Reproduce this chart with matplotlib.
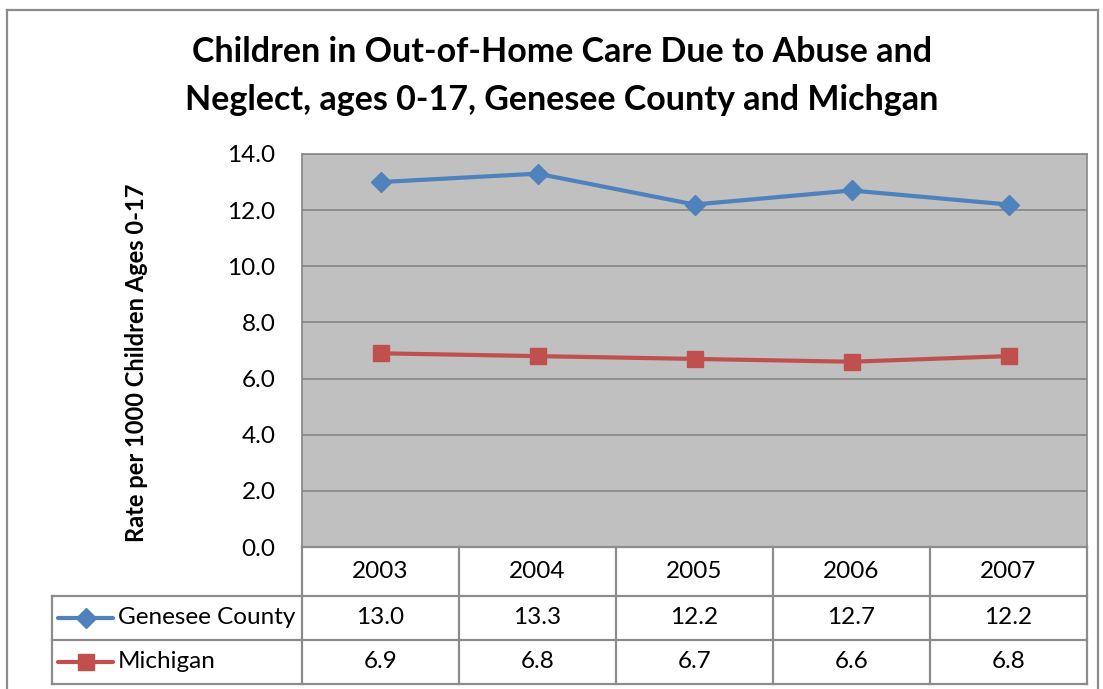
import matplotlib.pyplot as plt
from matplotlib.lines import Line2D

years = ["2003", "2004", "2005", "2006", "2007"]
genesee = [13.0, 13.3, 12.2, 12.7, 12.2]
michigan = [6.9, 6.8, 6.7, 6.6, 6.8]
series_names = ["Genesee County", "Michigan"]
title_lines = ["Children in Out-of-Home Care Due to Abuse and",
               "Neglect, ages 0-17, Genesee County and Michgan"]

W, H = 1103, 689
BLUE = "#4F81BD"
RED = "#C0504D"
GRID = "#868686"
FS = 17.5

plt.rcParams["font.family"] = ["Lato", "DejaVu Sans"]


def fx(px):
    return px / W


def fy(py):
    return 1 - py / H


fig = plt.figure(figsize=(W / 100, H / 100), dpi=100)
fig.patch.set_facecolor("white")

# outer chart border (bottom is cut off in the original)
for xs, ys in [([7, 7], [10, 700]), ([7, 1098], [10, 10]), ([1098, 1098], [10, 700])]:
    fig.add_artist(Line2D([fx(x) for x in xs], [fy(y) for y in ys], color="#8C8C8C", lw=1.6))

# plot area
left, right, top, bottom = 302, 1087, 154, 547
ax = fig.add_axes([fx(left), fy(bottom), fx(right - left), (bottom - top) / H])
ax.set_facecolor("#C0C0C0")
x = list(range(len(years)))
ax.plot(x, genesee, color=BLUE, lw=3, marker="D", ms=10.5, zorder=3)
ax.plot(x, michigan, color=RED, lw=3, marker="s", ms=11.5, zorder=3)
ax.set_xlim(-0.5, len(years) - 0.5)
ax.set_ylim(0, 14)
ax.set_yticks([0, 2, 4, 6, 8, 10, 12, 14])
ax.set_yticklabels([f"{v:.1f}" for v in ax.get_yticks()], fontsize=FS)
ax.tick_params(axis="y", length=0, pad=19)
ax.set_xticks([])
ax.grid(axis="y", color=GRID, lw=1.2)
ax.set_axisbelow(True)
for s in ax.spines.values():
    s.set_color(GRID)
    s.set_linewidth(1.2)

ax.set_ylabel("Rate per 1000 Children Ages 0-17", fontsize=17, fontweight="bold")
ax.yaxis.set_label_coords(-(302 - 148) / 785, 1 - (363 - 154) / 393)

for ty, line in zip([52, 100], title_lines):
    fig.text(fx(562), fy(ty), line, ha="center", va="center", fontsize=24.5, fontweight="bold")

# data table
col_w = (right - left) / len(years)
row_y = [547, 596, 640, 684]
tbl_left = 52
line_kw = dict(color="#8C8C8C", lw=1.6)
fig.add_artist(Line2D([fx(left), fx(right)], [fy(row_y[0])] * 2, **line_kw))
for yy in row_y[1:]:
    fig.add_artist(Line2D([fx(tbl_left), fx(right)], [fy(yy)] * 2, **line_kw))
for i in range(len(years) + 1):
    xx = left + i * col_w
    fig.add_artist(Line2D([fx(xx)] * 2, [fy(row_y[0]), fy(row_y[-1])], **line_kw))
fig.add_artist(Line2D([fx(tbl_left)] * 2, [fy(row_y[1]), fy(row_y[-1])], **line_kw))

for i, yr in enumerate(years):
    cx = left + (i + 0.5) * col_w
    fig.text(fx(cx), fy((row_y[0] + row_y[1]) / 2), yr, ha="center", va="center", fontsize=FS)
    fig.text(fx(cx), fy((row_y[1] + row_y[2]) / 2), f"{genesee[i]:.1f}", ha="center", va="center", fontsize=FS)
    fig.text(fx(cx), fy((row_y[2] + row_y[3]) / 2), f"{michigan[i]:.1f}", ha="center", va="center", fontsize=FS)

# legend keys in table
for r, (name, col, mk, ms) in enumerate(zip(series_names, [BLUE, RED], ["D", "s"], [10.5, 11.5])):
    cy = (row_y[r + 1] + row_y[r + 2]) / 2
    fig.add_artist(Line2D([fx(58), fx(85.5), fx(113)], [fy(cy)] * 3, color=col, lw=3,
                          marker=mk, ms=ms, markevery=[1], solid_capstyle="round"))
    fig.text(fx(118), fy(cy), name, ha="left", va="center", fontsize=FS)

fig.savefig("out.png", dpi=100)
